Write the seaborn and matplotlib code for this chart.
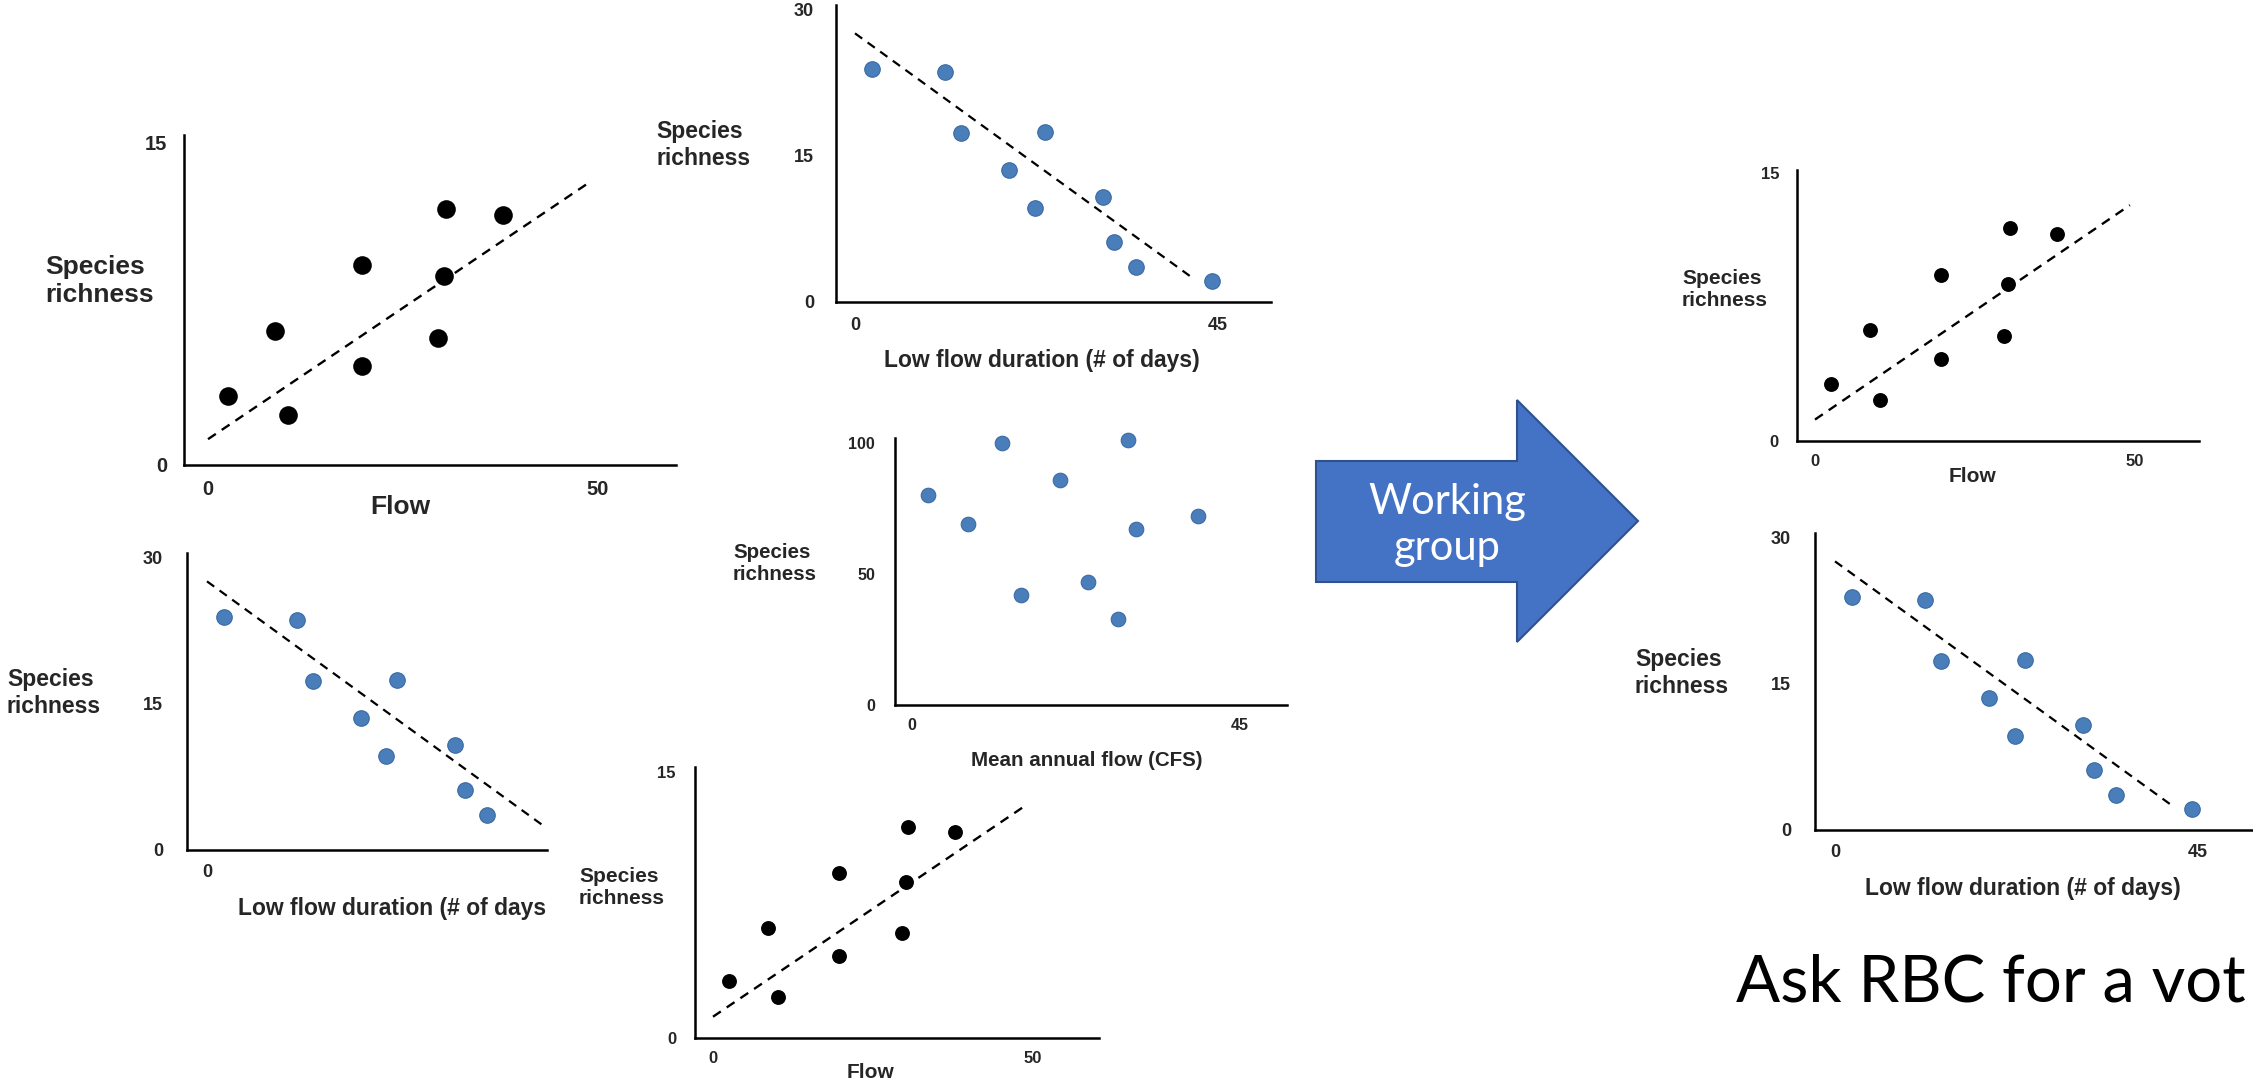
import matplotlib
matplotlib.use("Agg")
import matplotlib.pyplot as plt
from matplotlib.transforms import Affine2D
from matplotlib.patches import Polygon
import seaborn as sns

# data (same three mini charts pasted several times)
flow_x = [2.5, 8.6, 10.2, 19.7, 19.7, 29.5, 30.2, 30.5, 37.8]
flow_y = [3.2, 6.2, 2.3, 9.3, 4.6, 5.9, 8.8, 11.9, 11.6]
flow_fit_x = [0, 49.2]
flow_fit_y = [1.2, 13.2]

low_x = [2.1, 11.2, 13.2, 19.1, 23.6, 22.3, 30.8, 32.1, 34.8, 44.3]
low_y = [23.9, 23.6, 17.4, 13.6, 17.5, 9.7, 10.8, 6.2, 3.6, 2.2]
low_fit_x = [0, 41.8]
low_fit_y = [27.6, 2.5]

maf_x = [2.2, 7.7, 12.4, 14.9, 20.3, 24.2, 29.6, 28.3, 30.8, 39.3]
maf_y = [80, 69, 100, 42, 86, 47, 101, 33, 67, 72]

flow_xticks, flow_yticks = [0, 50], [0, 15]
low_xticks, low_yticks = [0, 45], [0, 15, 30]
maf_xticks, maf_yticks = [0, 45], [0, 50, 100]

ylab = "Species\nrichness"
low_label = "Low flow duration (# of days)"

BLUE = "#4a7ebb"
BLUE_EDGE = "#3b6aa3"
ARROW = "#4472c4"
ARROW_EDGE = "#2f528f"
TICK_FONT = ["Liberation Sans Narrow", "Liberation Sans", "DejaVu Sans"]

sns.set_style("white")
plt.rcParams["font.family"] = ["Liberation Sans", "DejaVu Sans"]

W, H = 2253, 1084
fig = plt.figure(figsize=(W / 100, H / 100), dpi=100)
# pixel coords, origin top-left
PX = Affine2D().scale(1 / W, -1 / H).translate(0, 1) + fig.transFigure


def add_panel(box, xref, yref):
    """box = (left, top, right, bottom) in px; xref/yref = ((px, value), (px, value))"""
    left, top, right, bottom = box
    ax = fig.add_axes([left / W, 1 - bottom / H, (right - left) / W, (bottom - top) / H])
    (px0, v0), (px1, v1) = xref
    ux = (px1 - px0) / (v1 - v0)
    (py0, w0), (py1, w1) = yref
    uy = (py0 - py1) / (w1 - w0)
    lims = ((v0 + (left - px0) / ux, v0 + (right - px0) / ux),
            (w0 + (py0 - bottom) / uy, w0 + (py0 - top) / uy))
    ax.set_xlim(*lims[0])
    ax.set_ylim(*lims[1])
    ax.patch.set_alpha(0)
    return ax, lims


def style_panel(ax, lims, xticks, yticks, tick_size, xpad, ypad, xlabel, xlab_pos, ylab_pos,
                label_size, xlab_ha="center"):
    sns.despine(ax=ax)
    for side in ["left", "bottom"]:
        ax.spines[side].set_color("black")
        ax.spines[side].set_linewidth(1.8)
    ax.set_xticks(xticks, labels=[str(t) for t in xticks], fontweight="bold", family=TICK_FONT)
    ax.set_yticks(yticks, labels=[str(t) for t in yticks], fontweight="bold", family=TICK_FONT)
    # set_xticks may widen the view, put the cropped limits back
    ax.set_xlim(*lims[0])
    ax.set_ylim(*lims[1])
    ax.tick_params(length=0, labelsize=tick_size)
    ax.tick_params(axis="x", pad=xpad * 0.72)
    ax.tick_params(axis="y", pad=ypad * 0.72)
    ax.set_xlabel(xlabel, fontsize=label_size, fontweight="bold", ha=xlab_ha, va="center")
    ax.xaxis.set_label_coords(*xlab_pos, transform=PX)
    ax.set_ylabel(ylab, fontsize=label_size, fontweight="bold", rotation=0,
                  ha="left", va="center", multialignment="left", linespacing=1.2)
    ax.yaxis.set_label_coords(*ylab_pos, transform=PX)


def flow_panel(ax, s):
    sns.lineplot(x=flow_fit_x, y=flow_fit_y, ax=ax, color="black", lw=1.7,
                 linestyle=(0, (4, 3)), clip_on=False)
    sns.scatterplot(x=flow_x, y=flow_y, ax=ax, color="black", s=s, linewidth=0,
                    clip_on=False, zorder=3)


def low_panel(ax, s, clip=False):
    sns.lineplot(x=low_fit_x, y=low_fit_y, ax=ax, color="black", lw=1.6,
                 linestyle=(0, (4, 3)), clip_on=clip)
    sns.scatterplot(x=low_x, y=low_y, ax=ax, color=BLUE, s=s, edgecolor=BLUE_EDGE,
                    linewidth=0.8, clip_on=clip, zorder=3)


# A: flow, top left
ax, lims = add_panel((184, 135, 676, 465), ((208, 0), (598, 50)), ((465, 0), (142, 15)))
flow_panel(ax, 180)
style_panel(ax, lims, flow_xticks, flow_yticks, 14.5, 15, 17, "Flow", (400, 507), (45, 281), 19)

# B: low flow, top middle
ax, lims = add_panel((836, 5, 1271, 302), ((855, 0), (1218, 45)), ((302, 0), (10, 30)))
low_panel(ax, 125)
style_panel(ax, lims, low_xticks, low_yticks, 13, 15, 22, low_label, (1042, 360), (656, 145), 16.5)

# C: low flow, bottom left (cropped on the right)
ax, lims = add_panel((187, 553, 547, 850), ((207, 0), (569, 45)), ((850, 0), (558, 30)))
low_panel(ax, 125, clip=True)
style_panel(ax, lims, low_xticks, low_yticks, 13, 14, 24, "Low flow duration (# of days",
            (546, 908), (7, 693), 16.5, xlab_ha="right")

# D: mean annual flow, middle
ax, lims = add_panel((895, 438, 1287, 705), ((912, 0), (1240, 45)), ((705, 0), (443, 100)))
sns.scatterplot(x=maf_x, y=maf_y, ax=ax, color=BLUE, s=110, edgecolor=BLUE_EDGE,
                linewidth=0.8, clip_on=False, zorder=3)
style_panel(ax, lims, maf_xticks, maf_yticks, 11.5, 13, 20, "Mean annual flow (CFS)",
            (1087, 760), (733, 564), 14.8)

# E: flow, bottom middle
ax, lims = add_panel((695, 767, 1099, 1038), ((713, 0), (1033, 50)), ((1038, 0), (772, 15)))
flow_panel(ax, 115)
style_panel(ax, lims, flow_xticks, flow_yticks, 12, 13, 19, "Flow", (870, 1073), (579, 887), 15)

# F: flow, right top
ax, lims = add_panel((1797, 170, 2199, 441), ((1815, 0), (2135, 50)), ((441, 0), (173, 15)))
flow_panel(ax, 115)
style_panel(ax, lims, flow_xticks, flow_yticks, 12, 13, 18, "Flow", (1973, 477), (1682, 290), 15)

# G: low flow, right bottom
ax, lims = add_panel((1815, 533, 2253, 830), ((1835, 0), (2198, 45)), ((830, 0), (538, 30)))
low_panel(ax, 125)
style_panel(ax, lims, low_xticks, low_yticks, 13, 14, 24, low_label, (2023, 888), (1635, 673), 16.5)

# block arrow with text
arrow_pts = [(1316, 461), (1517, 461), (1517, 400), (1638, 521),
             (1517, 642), (1517, 582), (1316, 582)]
fig.patches.append(Polygon(arrow_pts, closed=True, facecolor=ARROW, edgecolor=ARROW_EDGE,
                           lw=1.5, transform=PX))
fig.text(1447, 525, "Working\ngroup", transform=PX, ha="center", va="center",
         color="white", fontsize=30, family=["Lato", "DejaVu Sans"], linespacing=1.25)

fig.text(1736, 1002, "Ask RBC for a vot", transform=PX, ha="left", va="baseline",
         fontsize=47, family=["Lato", "DejaVu Sans"], color="black")

fig.savefig("out.png", dpi=100, facecolor="white")
